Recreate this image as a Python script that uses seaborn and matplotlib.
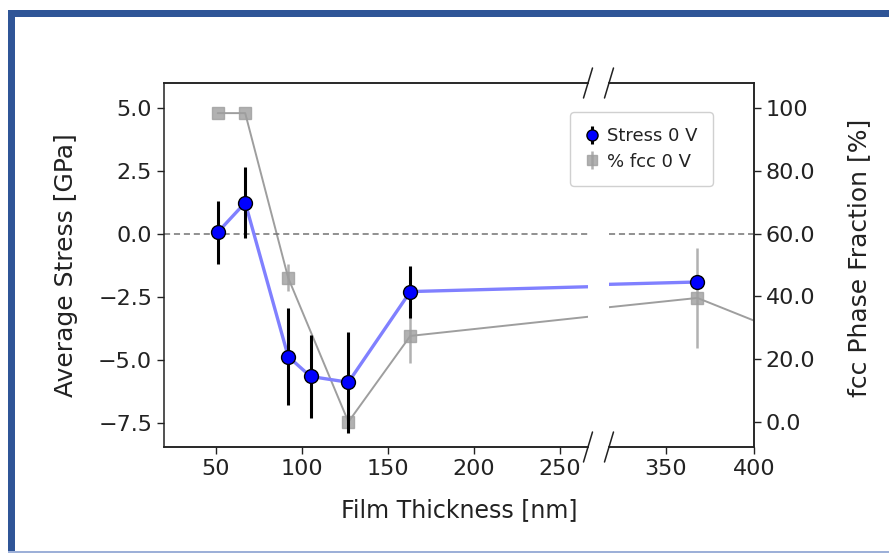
import matplotlib
matplotlib.use("Agg")
import matplotlib.pyplot as plt
import seaborn as sns
import pandas as pd
from matplotlib.patches import Rectangle
from matplotlib.lines import Line2D

sns.set_style("ticks")
plt.rcParams['font.family'] = ['DejaVu Sans']

# ---- data ----
thickness = [51, 67, 92, 105, 127, 163, 368]
stress = [0.07, 1.25, -4.86, -5.65, -5.88, -2.28, -1.9]
stress_err = [1.25, 1.41, 1.93, 1.65, 2.0, 1.03, 0.25]

fcc_thickness = [51, 67, 92, 127, 163, 368, 450]
fcc_pct = [98.4, 98.4, 45.9, 0.0, 27.4, 39.5, 21.0]
fcc_err = [0.0, 0.0, 4.3, 1.5, 8.7, 16.0, 0.0]

left_xlim = (19.8, 266.3)
right_xlim = (318.0, 400.0)
stress_ticks = [5.0, 2.5, 0.0, -2.5, -5.0, -7.5]
fcc_ticks = [100, 80, 60, 40, 20, 0]
fcc_ticklabels = ["100", "80.0", "60.0", "40.0", "20.0", "0.0"]
left_xticks = [50, 100, 150, 200, 250]
right_xticks = [350, 400]

df_s = pd.DataFrame({"x": thickness, "y": stress, "e": stress_err})
df_f = pd.DataFrame({"x": fcc_thickness, "y": fcc_pct, "e": fcc_err})

W, H = 889, 553
fig = plt.figure(figsize=(W / 100, H / 100), dpi=100)

def fx(px):
    return px / W

def fy(py):
    return 1 - py / H

top, bot = 83, 447
x_l0, x_l1, x_r0, x_r1 = 164, 588, 609, 754
ax1 = fig.add_axes([fx(x_l0), fy(bot), fx(x_l1 - x_l0), (bot - top) / H])
ax2 = fig.add_axes([fx(x_r0), fy(bot), fx(x_r1 - x_r0), (bot - top) / H])
ax1b = ax1.twinx()
ax2b = ax2.twinx()

blue_line = (0.5, 0.5, 1.0)
gray = (0.62, 0.62, 0.62)
ink = "#222222"

for ax, axb, xl in [(ax1, ax1b, left_xlim), (ax2, ax2b, right_xlim)]:
    ax.set_zorder(axb.get_zorder() + 1)
    ax.patch.set_visible(False)
    # fcc phase fraction (gray)
    sns.lineplot(data=df_f, x="x", y="y", ax=axb, color=gray, lw=1.4,
                 sort=False, estimator=None, legend=False)
    axb.errorbar(df_f["x"], df_f["y"], yerr=df_f["e"], fmt="s", color=gray,
                 ms=8.5, mec=gray, elinewidth=1.8, alpha=0.8, capsize=0)
    # stress (blue)
    ax.axhline(0, color="0.45", lw=1.1, ls=(0, (4, 2.5)))
    sns.lineplot(data=df_s, x="x", y="y", ax=ax, color=blue_line, lw=2.4,
                 sort=False, estimator=None, legend=False)
    ax.errorbar(df_s["x"], df_s["y"], yerr=df_s["e"], fmt="o", color="blue",
                mec="black", mew=1.0, ms=10, ecolor="black", elinewidth=2.2,
                capsize=0, zorder=5)
    ax.set_xlim(*xl)
    ax.set_ylim(-8.45, 6.0)
    axb.set_ylim(-8.0, 108)
    ax.set_xlabel("")
    ax.set_ylabel("")
    axb.set_ylabel("")
    for a in (ax, axb):
        a.tick_params(labelsize=16, length=5, width=1.0, colors=ink)
        for s in a.spines.values():
            s.set_linewidth(1.1)
            s.set_color(ink)

ax1.set_xticks(left_xticks)
ax2.set_xticks(right_xticks)
ax1.set_yticks(stress_ticks)
ax1.set_yticklabels([f"{v:.1f}".replace("-", "\u2212") for v in stress_ticks])
ax1.spines["right"].set_visible(False)
ax1b.spines["right"].set_visible(False)
ax1b.spines["left"].set_visible(False)
ax1b.set_yticks([])
ax2.spines["left"].set_visible(False)
ax2b.spines["left"].set_visible(False)
ax2.set_yticks([])
ax2b.set_yticks(fcc_ticks)
ax2b.set_yticklabels(fcc_ticklabels)
ax1b.set_xlim(*left_xlim)
ax2b.set_xlim(*right_xlim)

# break marks
for xc in (x_l1, x_r0):
    for yc in (top, bot):
        fig.add_artist(Line2D([fx(xc - 4.5), fx(xc + 4.5)], [fy(yc + 15), fy(yc - 15)],
                              color=ink, lw=1.1))

# axis labels
fig.text(fx(66), fy(265), "Average Stress [GPa]", rotation=90,
         ha="center", va="center", fontsize=18, color=ink)
fig.text(fx(859), fy(258), "fcc Phase Fraction [%]", rotation=90,
         ha="center", va="center", fontsize=18, color=ink)
fig.text(fx(459), fy(510), "Film Thickness [nm]",
         ha="center", va="center", fontsize=17, color=ink)

# legend
h_s = ax1.containers[0]
h_f = ax1b.containers[0]
leg = fig.legend([h_s, h_f], ["Stress 0 V", "% fcc 0 V"], loc="upper left",
                 bbox_to_anchor=(fx(570), fy(112)), borderaxespad=0, fontsize=13,
                 frameon=True, fancybox=True, edgecolor="#d0d0d0", framealpha=1,
                 handlelength=0.7, handletextpad=0.5, borderpad=0.85,
                 labelspacing=0.4, markerscale=0.8)
for t in leg.get_texts():
    t.set_color(ink)

# blue frame
fig.add_artist(Rectangle((fx(8), fy(17)), 1 - fx(8), 7 / H, transform=fig.transFigure,
                         color="#2F5597", lw=0))
fig.add_artist(Rectangle((fx(8), 0), 7 / W, fy(10), transform=fig.transFigure,
                         color="#2F5597", lw=0))
fig.add_artist(Rectangle((fx(8), 0), 1 - fx(8), 2 / H, transform=fig.transFigure,
                         color="#9DB0D8", lw=0))

fig.savefig("out.png", dpi=100)
